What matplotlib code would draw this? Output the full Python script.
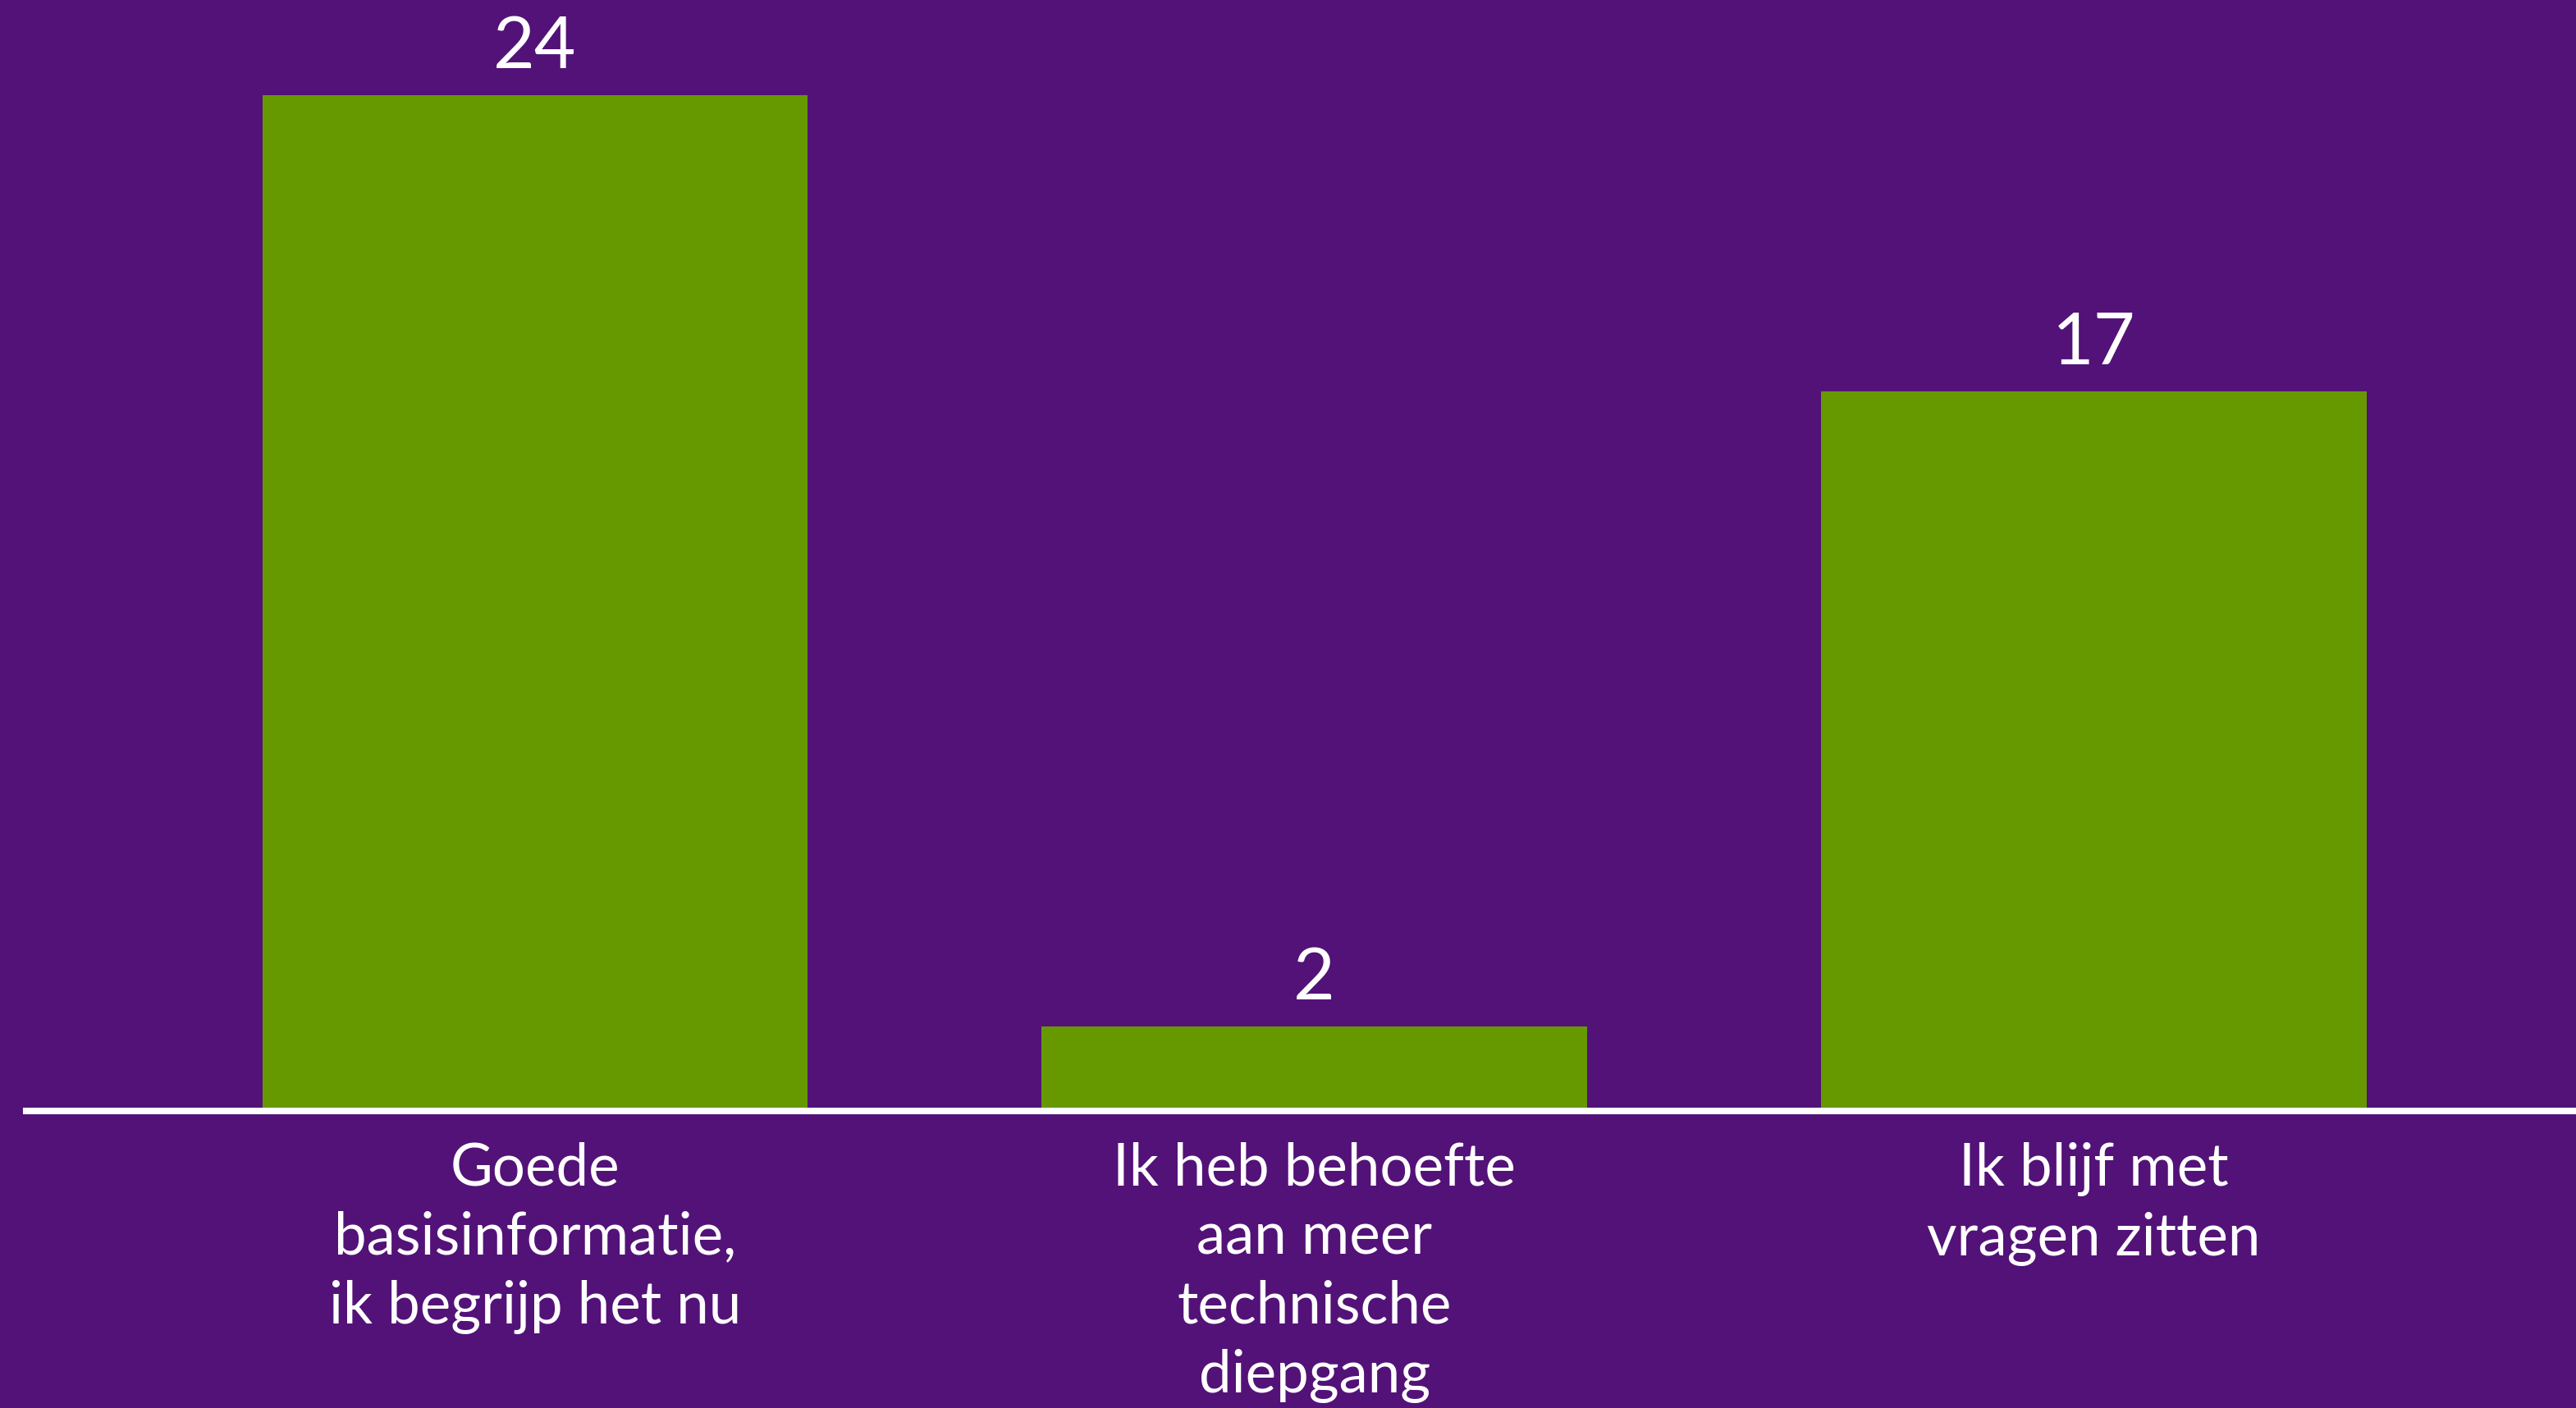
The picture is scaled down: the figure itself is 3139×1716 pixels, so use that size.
import matplotlib
matplotlib.use('Agg')
import matplotlib.pyplot as plt
import numpy as np

# data
categories = ['Goede\nbasisinformatie,\nik begrijp het nu',
              'Ik heb behoefte\naan meer\ntechnische\ndiepgang',
              'Ik blijf met\nvragen zitten']
values = [24, 2, 17]

bg_col = '#531278'
bar_col = '#669900'

plt.rcParams['font.family'] = ['Lato', 'DejaVu Sans']

fig = plt.figure(figsize=(31.39, 17.16), dpi=100, facecolor=bg_col)
# axes spans from left edge of the baseline to the right edge of the figure
ax = fig.add_axes([32/3139, 1 - 1354/1716, 1 - 32/3139, 1354/1716])
ax.set_facecolor(bg_col)

x = np.arange(len(categories))
bars = ax.bar(x, values, width=0.70, color=bar_col, zorder=2)
ax.bar_label(bars, labels=[str(v) for v in values], padding=13,
             color='white', fontsize=63)

ax.set_xlim(-0.653, 2.619)
ax.set_ylim(0, 26.24)

ax.set_xticks(x)
ax.set_xticklabels(categories, color='white', fontsize=51, linespacing=1.36)
ax.tick_params(axis='x', length=0, pad=27)
ax.set_yticks([])

for s in ['top', 'right', 'left']:
    ax.spines[s].set_visible(False)
ax.spines['bottom'].set_color('white')
ax.spines['bottom'].set_linewidth(5.8)
ax.spines['bottom'].set_zorder(3)

fig.savefig('out.png', dpi=100, facecolor=bg_col)
